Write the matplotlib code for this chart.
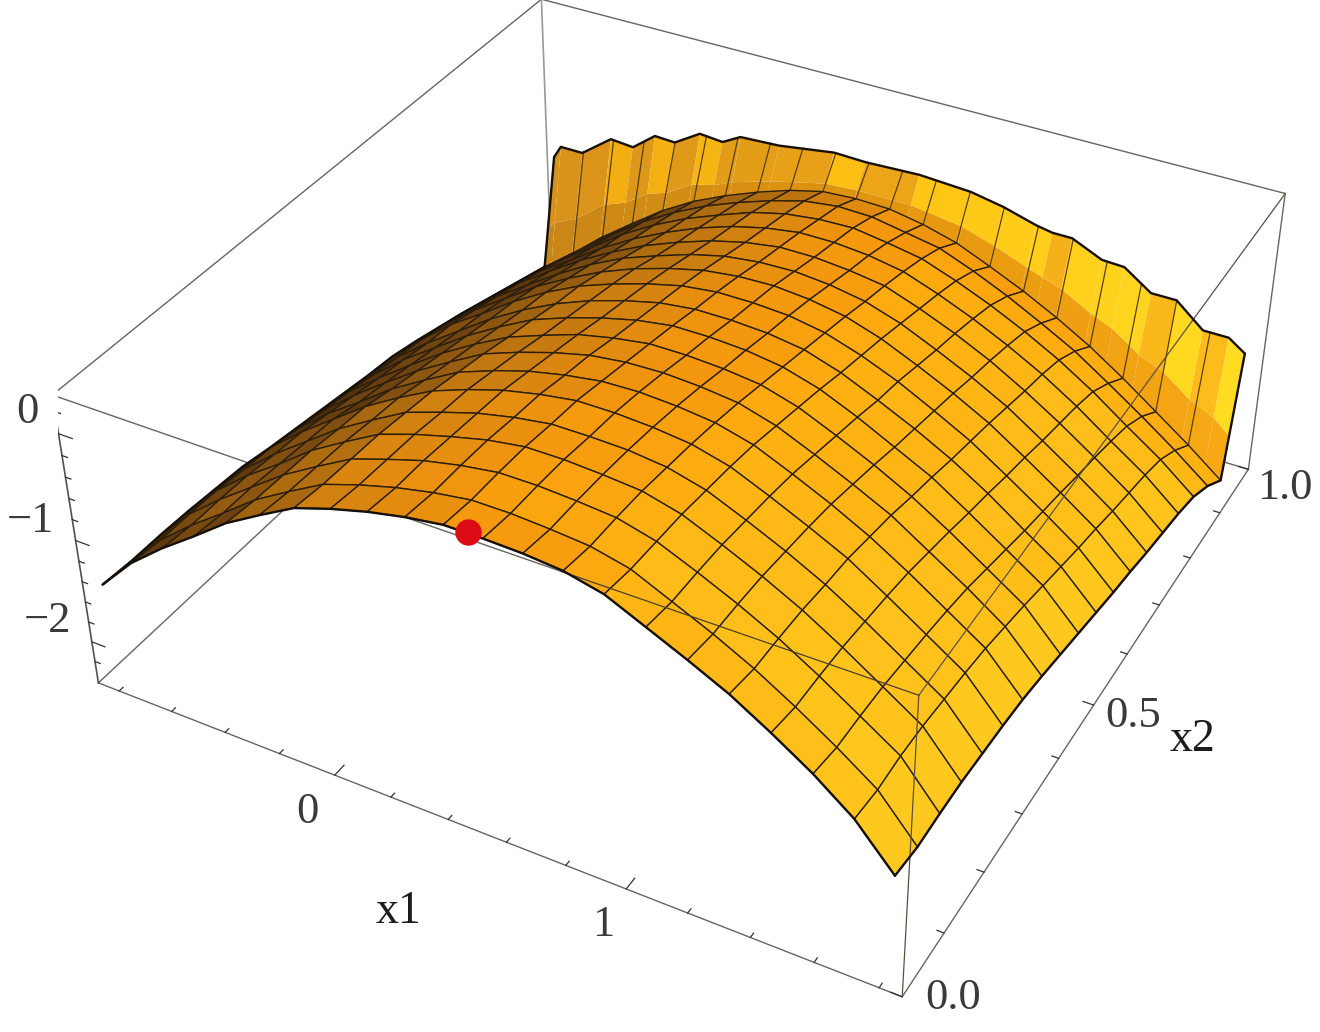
import numpy as np
import matplotlib
matplotlib.use("Agg")
import matplotlib.pyplot as plt
from matplotlib.colors import LinearSegmentedColormap

plt.rcParams["font.family"] = ["Liberation Serif", "DejaVu Serif"]

x1_range = (-0.88, 1.87)
x2_range = (0.0, 1.0)
z_range = (-2.42, 0.35)

x1_grid = [-0.800, -0.675, -0.549, -0.424, -0.299, -0.174, -0.049, 0.077, 0.202, 0.327, 0.452,
           0.578, 0.703, 0.828, 0.953, 1.079, 1.204, 1.329, 1.454, 1.580, 1.705, 1.830]
x2_grid = [0.000, 0.052, 0.104, 0.156, 0.208, 0.260, 0.312, 0.364, 0.416, 0.468,
           0.520, 0.572, 0.624, 0.676, 0.728, 0.780, 0.832, 0.884, 0.936]
# heights, one row per x2 value
surface_z = np.array([
    [-1.35,-1.02,-0.76,-0.53,-0.29,-0.10,0.08,0.19,0.28,0.35,0.40,0.40,0.39,0.36,0.28,0.12,-0.04,-0.21,-0.42,-0.65,-0.92,-1.30],
    [-1.37,-1.05,-0.79,-0.56,-0.32,-0.13,0.05,0.16,0.25,0.32,0.37,0.37,0.35,0.32,0.24,0.08,-0.08,-0.26,-0.47,-0.70,-0.95,-1.34],
    [-1.37,-1.05,-0.79,-0.56,-0.33,-0.14,0.04,0.15,0.25,0.32,0.37,0.37,0.35,0.32,0.23,0.08,-0.08,-0.26,-0.47,-0.70,-0.93,-1.33],
    [-1.38,-1.06,-0.80,-0.58,-0.34,-0.15,0.03,0.14,0.23,0.31,0.36,0.36,0.34,0.31,0.22,0.07,-0.09,-0.27,-0.48,-0.71,-0.94,-1.33],
    [-1.40,-1.09,-0.83,-0.60,-0.37,-0.18,0.00,0.11,0.21,0.28,0.33,0.33,0.32,0.28,0.19,0.04,-0.12,-0.30,-0.51,-0.74,-0.97,-1.35],
    [-1.42,-1.11,-0.85,-0.62,-0.39,-0.20,-0.03,0.09,0.19,0.26,0.31,0.31,0.29,0.25,0.16,0.01,-0.15,-0.32,-0.54,-0.77,-1.00,-1.37],
    [-1.47,-1.16,-0.90,-0.68,-0.45,-0.26,-0.08,0.04,0.14,0.21,0.26,0.27,0.25,0.21,0.12,-0.03,-0.19,-0.37,-0.58,-0.81,-1.04,-1.40],
    [-1.51,-1.21,-0.95,-0.72,-0.50,-0.31,-0.13,-0.01,0.09,0.17,0.21,0.22,0.20,0.16,0.06,-0.09,-0.25,-0.42,-0.64,-0.86,-1.10,-1.45],
    [-1.55,-1.25,-1.00,-0.77,-0.55,-0.36,-0.19,-0.07,0.04,0.11,0.16,0.16,0.14,0.10,0.00,-0.15,-0.31,-0.49,-0.70,-0.93,-1.16,-1.51],
    [-1.59,-1.30,-1.04,-0.82,-0.60,-0.41,-0.24,-0.12,-0.02,0.06,0.11,0.11,0.09,0.04,-0.06,-0.21,-0.38,-0.55,-0.77,-1.00,-1.23,-1.57],
    [-1.63,-1.34,-1.09,-0.87,-0.65,-0.46,-0.30,-0.17,-0.07,0.01,0.05,0.05,0.03,-0.02,-0.13,-0.28,-0.44,-0.62,-0.83,-1.07,-1.30,-1.63],
    [-1.66,-1.38,-1.12,-0.91,-0.69,-0.50,-0.34,-0.22,-0.12,-0.04,0.00,0.00,-0.02,-0.08,-0.19,-0.33,-0.50,-0.68,-0.90,-1.13,-1.37,-1.69],
    [-1.72,-1.44,-1.19,-0.97,-0.75,-0.57,-0.41,-0.28,-0.18,-0.10,-0.06,-0.05,-0.08,-0.14,-0.25,-0.40,-0.56,-0.74,-0.96,-1.19,-1.43,-1.74],
    [-1.79,-1.52,-1.26,-1.04,-0.83,-0.64,-0.48,-0.36,-0.25,-0.17,-0.13,-0.12,-0.15,-0.21,-0.32,-0.47,-0.63,-0.81,-1.03,-1.26,-1.50,-1.80],
    [-1.86,-1.59,-1.33,-1.11,-0.90,-0.72,-0.56,-0.43,-0.32,-0.24,-0.19,-0.19,-0.22,-0.27,-0.39,-0.53,-0.69,-0.88,-1.09,-1.32,-1.56,-1.85],
    [-1.94,-1.67,-1.41,-1.20,-0.98,-0.79,-0.63,-0.49,-0.38,-0.30,-0.25,-0.25,-0.28,-0.34,-0.46,-0.60,-0.76,-0.94,-1.15,-1.39,-1.62,-1.90],
    [-2.02,-1.75,-1.50,-1.27,-1.04,-0.85,-0.69,-0.56,-0.44,-0.36,-0.32,-0.31,-0.36,-0.42,-0.54,-0.68,-0.84,-1.02,-1.23,-1.47,-1.70,-1.97],
    [-2.10,-1.84,-1.59,-1.34,-1.11,-0.92,-0.76,-0.63,-0.52,-0.43,-0.39,-0.40,-0.46,-0.52,-0.65,-0.80,-0.97,-1.15,-1.37,-1.60,-1.84,-2.10],
    [-2.18,-1.93,-1.66,-1.42,-1.19,-1.00,-0.85,-0.72,-0.61,-0.53,-0.51,-0.52,-0.58,-0.67,-0.81,-0.96,-1.13,-1.32,-1.54,-1.78,-2.02,-2.28],
])

wall_x1 = [-0.80,-0.77,-0.68,-0.56,-0.47,-0.38,-0.30,-0.20,-0.11,-0.04,0.11,0.32,0.44,0.64,0.83,0.95,1.07,1.13,1.20,1.31,1.39,1.49,1.58,1.68,1.77,1.83]
wall_top = [-1.12,-0.99,-0.99,-0.76,-0.78,-0.60,-0.61,-0.45,-0.47,-0.37,-0.35,-0.27,-0.28,-0.26,-0.29,-0.35,-0.44,-0.47,-0.47,-0.60,-0.61,-0.79,-0.79,-1.01,-1.01,-1.12]
wall_mid = [-1.81,-1.72,-1.61,-1.37,-1.28,-1.12,-1.05,-0.89,-0.83,-0.75,-0.63,-0.50,-0.48,-0.48,-0.55,-0.65,-0.77,-0.83,-0.89,-1.05,-1.14,-1.32,-1.42,-1.62,-1.73,-1.87]
wall_base = [-2.18,-2.12,-1.94,-1.72,-1.57,-1.42,-1.30,-1.15,-1.04,-0.97,-0.80,-0.64,-0.60,-0.62,-0.72,-0.84,-0.98,-1.06,-1.15,-1.33,-1.47,-1.64,-1.82,-2.00,-2.18,-2.28]
mesh_top = [-1.12,-0.97,-0.76,-0.69,-0.61,-0.46,-0.38,-0.35,-0.31,-0.27,-0.28,-0.27,-0.27,-0.29,-0.35,-0.44,-0.48,-0.60,-0.73,-0.80,-1.01,-1.12]
wall_x2 = [0.936, 0.948, 0.97]

x1_ticks = [-0.8,-0.6,-0.4,-0.2,0.0,0.2,0.4,0.6,0.8,1.0,1.2,1.4,1.6,1.8]
x1_major = [0.0, 1.0]
x2_ticks = [0.0,0.1,0.2,0.3,0.4,0.5,0.6,0.7,0.8,0.9,1.0]
x2_major = [0.0, 0.5, 1.0]
z_ticks = [0.2,0.0,-0.2,-0.4,-0.6,-0.8,-1.0,-1.2,-1.4,-1.6,-1.8,-2.0,-2.2]
z_major = [0.0, -1.0, -2.0]
red_point = (0.53, 0.0, 0.41)

fig = plt.figure(figsize=(13.2, 10.32), dpi=100)
ax = fig.add_axes([58.2 / 1320, -44.08 / 1032, 1248.06 / 1320, 1248.06 / 1032], projection="3d", computed_zorder=False)
ax.set_xlim(*x1_range, view_margin=0)
ax.set_ylim(*x2_range, view_margin=0)
ax.set_zlim(*z_range, view_margin=0)
ax.view_init(36.2349, -61.4019, 0.1478)
ax.set_proj_type("persp", focal_length=0.4415)
ax.set_box_aspect((1.0, 0.9947, 0.3979))
ax.set_axis_off()

# colour from the slope of each facet
slope_cmap = LinearSegmentedColormap.from_list("slope", [
    (0.00, "#FFC81E"), (0.15, "#FFC01A"), (0.29, "#FFB312"), (0.40, "#FDA80F"), (0.51, "#F5980E"),
    (0.60, "#E88F0F"), (0.70, "#CF7F10"), (0.81, "#A86810"), (0.91, "#6E4210"), (1.00, "#3F2408")])
X, Y = np.meshgrid(x1_grid, x2_grid)
dzx = np.diff(surface_z, axis=1) / np.diff(x1_grid)
dzy = np.diff(surface_z, axis=0) / np.diff(x2_grid)[:, None]
gx = 0.5 * (dzx[:-1, :] + dzx[1:, :])
gy = 0.5 * (dzy[:, :-1] + dzy[:, 1:])
colors = slope_cmap((gx - 0.4 * gy + 2.2) / 4.8)

# back wall
wx = np.array(wall_x1)
WX = np.vstack([wx, wx, wx])
WY = np.vstack([np.full_like(wx, c) for c in wall_x2])
WZ = np.vstack([wall_base, wall_mid, wall_top])
jag = np.diff(wall_top) / np.diff(wall_x1)
pos = (0.5 * (wx[:-1] + wx[1:]) + 0.8) / 2.63
wall_low = LinearSegmentedColormap.from_list("wlow", ["#C98618", "#E2960F", "#F8A814"])
wall_dark = LinearSegmentedColormap.from_list("wd", ["#D8921A", "#EBA416", "#FFBE1C"])
wall_light = LinearSegmentedColormap.from_list("wl", ["#F0A814", "#FFC214", "#FFDC22"])
wall_cols = np.array([
    wall_low(pos),
    [wall_light(a) if j < 0 else wall_dark(a) for a, j in zip(pos, jag)],
])
wall = ax.plot_surface(WX, WY, WZ, rstride=1, cstride=1, facecolors=wall_cols, shade=False, zorder=2)
wall.set_edgecolor("none")
for xk, zb, zt in zip(x1_grid, surface_z[-1], mesh_top):
    ax.plot([xk, xk], [wall_x2[0], wall_x2[-1]], [zb, zt], color="#5a3d0c", lw=0.9, zorder=2.5)

surf = ax.plot_surface(X, Y, surface_z, rstride=1, cstride=1, facecolors=colors, shade=False, zorder=3)
surf.set_edgecolor("#2b1f0c")
surf.set_linewidth(1.0)

# box
x0, x9 = x1_range
y0, y9 = x2_range
z0, z9 = z_range
box_col = "#6a6460"


def seg(a, b, zo, col=box_col, lw=1.0):
    ax.plot([a[0], b[0]], [a[1], b[1]], [a[2], b[2]], color=col, lw=lw, zorder=zo)


seg((x0, y0, z9), (x0, y9, z9), 1)
seg((x0, y9, z9), (x9, y9, z9), 1)
seg((x0, y9, z9), (x0, y9, z0), 1, "#999999", 1.2)
seg((x0, y0, z0), (x0, y9, z0), 1)
seg((x0, y9, z0), (x9, y9, z0), 1)
seg((x0, y0, z9), (x9, y0, z9), 1)
seg((x0, y0, z0), (x9, y0, z0), 1)
seg((x9, y0, z0), (x9, y9, z0), 1)
seg((x0, y0, z0), (x0, y0, z9), 1, "#55504c", 1.2)
seg((x9, y9, z0), (x9, y9, z9), 1)
seg((0.82, y0, z9), (x9, y0, z9), 4, "#4a4030", 0.9)
seg((x9, y0, z9), (x9, y9, z9), 4, "#5a5040", 0.9)
seg((x9, y0, z0), (x9, y0, z9), 4, "#5a5040", 0.9)

for t in x1_ticks:
    d = 0.018 if t in x1_major else 0.007
    seg((t, y0, z0), (t, y0 + d, z0), 1, "#333333", 0.9)
for t in x2_ticks:
    d = 0.035 if t in x2_major else 0.022
    seg((x9, t, z0), (x9 - d, t, z0), 1, "#333333", 0.9)
for t in z_ticks:
    d = 0.05 if t in z_major else 0.02
    seg((x0, y0, t), (x0 + d, y0, t), 1, "#333333", 0.9)

# outline of the surface
line_kw = dict(color="#17100a", lw=1.7, zorder=5, solid_joinstyle="round", solid_capstyle="round")
ax.plot(x1_grid, [x2_grid[0]] * len(x1_grid), surface_z[0], **line_kw)
ax.plot([x1_grid[-1]] * len(x2_grid), x2_grid, surface_z[:, -1], **line_kw)
ax.plot([x1_grid[0]] * len(x2_grid), x2_grid, surface_z[:, 0], **line_kw)
ax.plot(wall_x1, [wall_x2[-1]] * len(wall_x1), wall_top, **line_kw)
ax.plot([wall_x1[0]] * 3, wall_x2, [wall_base[0], wall_mid[0], wall_top[0]], **line_kw)
ax.plot([wall_x1[-1]] * 3, wall_x2, [wall_base[-1], wall_mid[-1], wall_top[-1]], **line_kw)

ax.plot([red_point[0]], [red_point[1]], [red_point[2]], marker="o", ms=19, color="#DC0A14", mec="none", zorder=6)

text_col = "#3a3a3a"
labels = [("0", 27, 412), ("\u22121", 30, 521), ("\u22122", 47, 621), ("0", 307, 812), ("1", 603, 925),
          ("0.0", 953, 998), ("0.5", 1133, 716), ("1.0", 1285, 488)]
for s, px, py in labels:
    fig.text(px / 1320, 1 - py / 1032, s, fontsize=32, color=text_col, ha="center", va="center")
fig.text(399 / 1320, 1 - 912 / 1032, "x1", fontsize=33, color="#1c1c1c", ha="center", va="center")
fig.text(1193 / 1320, 1 - 740 / 1032, "x2", fontsize=33, color="#1c1c1c", ha="center", va="center")

fig.savefig("out.png", dpi=100)
